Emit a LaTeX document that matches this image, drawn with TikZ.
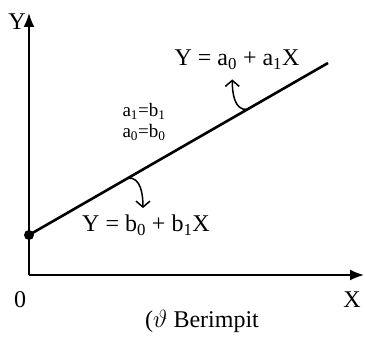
\documentclass[tikz,border=0pt]{standalone}
\usepackage{fontspec}
\setmainfont{Liberation Serif}
\usepackage{tikz}
\usetikzlibrary{arrows.meta,calc}

\newcommand{\sub}[1]{\textsubscript{#1}}

\begin{document}
\begin{tikzpicture}[x=1pt, y=-1pt, >={Latex[length=14pt,width=11pt]},
    eqn/.style={font=\fontsize{24}{28}\selectfont, inner sep=0pt},
    small/.style={font=\fontsize{19}{21}\selectfont, inner sep=0pt, align=left},
    hookarrow/.style={line width=1.5pt, -{Straight Barb[length=6pt,width=14pt]}}]
    \useasboundingbox (0,0) rectangle (365,339);

    \coordinate (O) at (29,275);
    \coordinate (Xend) at (364,275);
    \coordinate (Yend) at (29,13);
    \coordinate (P0) at (29,235);
    \coordinate (P1) at (328,63);

    % axes
    \draw[line width=1.8pt, ->] (O) -- (Xend);
    \draw[line width=1.8pt, ->] (O) -- (Yend);
    \node[eqn] (ylab) at (17,22) {Y};
    \node[eqn] (xlab) at (352,300) {X};
    \node[eqn] (olab) at (20,300) {0};

    % the line
    \draw[line width=2.6pt] (P0) -- (P1);
    \fill (P0) circle (5pt);

    % arrows to the equations
    \coordinate (A) at ($(P0)!0.73!(P1)$);
    \coordinate (B) at ($(P0)!0.331!(P1)$);
    \draw[hookarrow] (A) to[out=185, in=-90] ($(A)+(-15,-30)$);
    \draw[hookarrow] (B) to[out=5, in=90] ($(B)+(15,30)$);

    \node[eqn] (top) at (237,60) {Y = a\sub{0} + a\sub{1}X};
    \node[eqn] (bot) at (146,225) {Y = b\sub{0} + b\sub{1}X};
    \node[small] (same) at (144,122) {a\sub{1}=b\sub{1}\\a\sub{0}=b\sub{0}};

    \node[eqn] (cap) at (202,321) {($\vartheta$ Berimpit};
\end{tikzpicture}
\end{document}
